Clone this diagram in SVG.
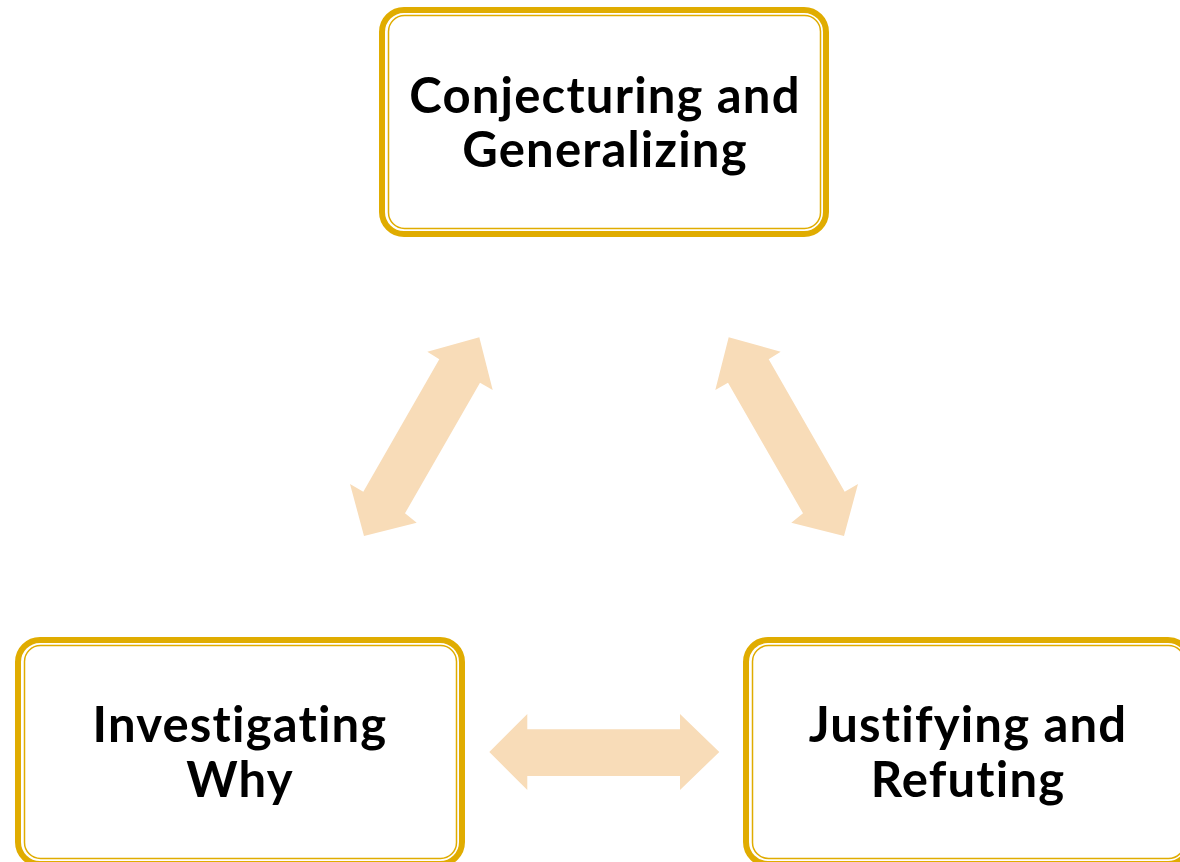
<svg xmlns="http://www.w3.org/2000/svg" width="1180" height="862" viewBox="0 0 1180 862">
  <style>
    .frame { fill: #FFFFFF; stroke: #E0AC00; stroke-width: 6; }
    .inner { fill: none; stroke: #E0AC00; stroke-width: 1.5; }
    .label { font-family: Lato, "Open Sans", "Liberation Sans", sans-serif; font-weight: 700; font-size: 49px; letter-spacing: 1.2px; font-variant-ligatures: none; fill: #000000; text-anchor: middle; }
    .link { fill: #F8DCB8; stroke: none; }
  </style>
  <defs>
    <!-- double-headed block arrow between the top node and the lower-left node -->
    <polygon id="diag" points="479.3,337.3 492.7,390 480,382.7 405,513.3 416.7,522.7 364,536 350,484 363.3,491.7 439.3,359.3 427.3,351.7"/>
  </defs>

  <g id="connectors">
    <use href="#diag" class="link"/>
    <use href="#diag" class="link" transform="translate(1208,0) scale(-1,1)"/>
    <polygon class="link" points="489.3,752 527.3,714 527.3,729.3 680,729.3 680,714 719.3,752 680,790 680,776 527.3,776 527.3,790"/>
  </g>

  <g id="node-conjecturing">
    <rect class="frame" x="382" y="10" width="444" height="224" rx="22"/>
    <rect class="inner" x="388.5" y="15.5" width="432" height="213" rx="16"/>
    <text class="label" x="605" y="113">Conjecturing and</text>
    <text class="label" x="605" y="167">Generalizing</text>
  </g>

  <g id="node-investigating">
    <rect class="frame" x="18" y="640" width="444" height="224" rx="22"/>
    <rect class="inner" x="24.5" y="645.5" width="432" height="213" rx="16"/>
    <text class="label" x="240" y="742">Investigating</text>
    <text class="label" x="240" y="797">Why</text>
  </g>

  <g id="node-justifying">
    <rect class="frame" x="746" y="640" width="444" height="224" rx="22"/>
    <rect class="inner" x="752.5" y="645.5" width="432" height="213" rx="16"/>
    <text class="label" x="968" y="742">Justifying and</text>
    <text class="label" x="968" y="797">Refuting</text>
  </g>
</svg>
